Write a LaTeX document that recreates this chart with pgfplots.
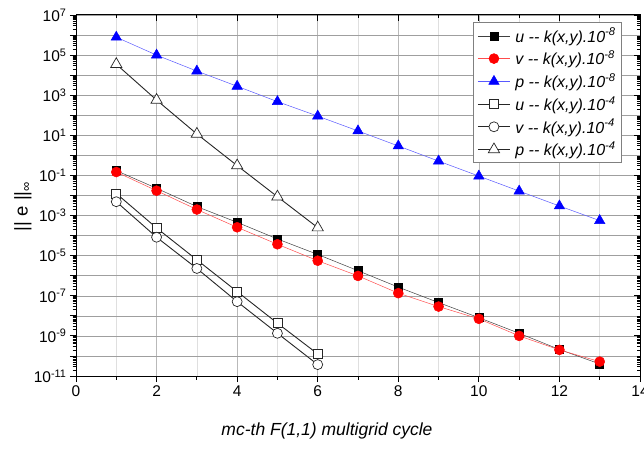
\documentclass[border=0pt]{standalone}
\usepackage{fontspec}
\setmainfont{Liberation Sans}
\usepackage{pgfplots}
\pgfplotsset{compat=1.18}
\def\minorlist{}
\foreach \e in {-11,...,6}{\foreach \m in {2,...,9}{\xdef\minorlist{\minorlist\m e\e,}}}
\xdef\minorlist{\minorlist 1e7}
\begin{document}
\begin{tikzpicture}
\begin{axis}[name=ax, scale only axis, width=564pt, height=361pt,
  xmin=0, xmax=14, ymode=log, ymin=1e-11, ymax=1e7,
  /pgf/number format/assume math mode=true,
  xtick={0,2,...,14}, minor xtick={1,3,...,13},
  ytick={1e-11,1e-10,1e-9,1e-8,1e-7,1e-6,1e-5,1e-4,1e-3,1e-2,1e-1,1,1e1,1e2,1e3,1e4,1e5,1e6,1e7},
  yticklabels={{10\textsuperscript{-11}},,{10\textsuperscript{-9}},,{10\textsuperscript{-7}},,{10\textsuperscript{-5}},,{10\textsuperscript{-3}},,{10\textsuperscript{-1}},,{10\textsuperscript{1}},,{10\textsuperscript{3}},,{10\textsuperscript{5}},,{10\textsuperscript{7}}},
  minor ytick/.expanded={\minorlist},
  tick pos=left, tick align=outside,
  major tick length=6pt, minor tick length=3.5pt,
  tick style={black, line width=0.8pt},
  xmajorgrids, xminorgrids, ymajorgrids,
  major grid style={gray!55, line width=0.7pt},
  minor grid style={gray!25, line width=0.7pt},
  y grid style={gray!75, line width=0.5pt},
  axis line style={black, line width=1pt},
  ticklabel style={font=\fontsize{15.5}{18}\selectfont},
  xlabel={\textit{mc-th F(1,1) multigrid cycle}},
  xlabel style={font=\fontsize{17.5}{20}\selectfont, at={(axis description cs:0.445,0)}, anchor=north, yshift=-43pt},
  ylabel={|| e ||\textsubscript{∞}},
  ylabel style={font=\fontsize{18.5}{20}\selectfont, at={(axis description cs:-0.094,0.47)}, anchor=center},
  legend style={at={(rel axis cs:0.968,0.98)}, anchor=north east, draw=gray, line width=0.6pt,
    font=\fontsize{16}{19}\selectfont, row sep=3.2pt, inner xsep=4pt, inner ysep=3.5pt},
  legend cell align=left,
  legend image code/.code={\draw[mark repeat=2,mark phase=2,#1] plot coordinates {(0pt,0pt) (16pt,0pt) (32pt,0pt)};},
]
\addplot[black!75, line width=0.5pt, mark=square*, mark size=4pt, mark options={fill=black, draw=black}] coordinates {
(1,0.174) (2,0.0229) (3,2.8e-3) (4,4.6e-4) (5,6.8e-5) (6,1.15e-5) (7,1.78e-6) (8,2.7e-7) (9,4.6e-8) (10,8.1e-9) (11,1.35e-9) (12,2.1e-10) (13,4.0e-11)};
\addlegendentry{\hspace{3pt}\textit{u -{}- k(x,y).10\textsuperscript{-8}}}
\addplot[red!70, line width=0.5pt, mark=*, mark size=5pt, mark options={fill=red, draw=red}] coordinates {
(1,0.148) (2,0.0174) (3,2.0e-3) (4,2.6e-4) (5,3.7e-5) (6,5.6e-6) (7,9.8e-7) (8,1.35e-7) (9,2.9e-8) (10,7.1e-9) (11,1.0e-9) (12,2.0e-10) (13,5.2e-11)};
\addlegendentry{\hspace{3pt}\textit{v -{}- k(x,y).10\textsuperscript{-8}}}
\addplot[blue!65, line width=0.5pt, mark=triangle*, mark size=6pt, mark options={fill=blue, draw=blue}] coordinates {
(1,7.8e5) (2,1.0e5) (3,1.6e4) (4,2.8e3) (5,4.8e2) (6,91) (7,16.6) (8,2.95) (9,0.52) (10,0.093) (11,0.0166) (12,0.0030) (13,5.6e-4)};
\addlegendentry{\hspace{3pt}\textit{p -{}- k(x,y).10\textsuperscript{-8}}}
\addplot[black!85, line width=0.9pt, mark=square*, mark size=4.5pt, mark options={fill=white, draw=black!85, line width=0.7pt}] coordinates {
(1,0.0126) (2,2.4e-4) (3,6.2e-6) (4,1.62e-7) (5,4.3e-9) (6,1.26e-10)};
\addlegendentry{\hspace{3pt}\textit{u -{}- k(x,y).10\textsuperscript{-4}}}
\addplot[black!85, line width=0.9pt, mark=*, mark size=5pt, mark options={fill=white, draw=black!85, line width=0.7pt}] coordinates {
(1,4.9e-3) (2,8.3e-5) (3,2.3e-6) (4,5.1e-8) (5,1.35e-9) (6,3.7e-11)};
\addlegendentry{\hspace{3pt}\textit{v -{}- k(x,y).10\textsuperscript{-4}}}
\addplot[black!85, line width=0.9pt, mark=triangle*, mark size=6.5pt, mark options={fill=white, draw=black!85, line width=0.7pt}] coordinates {
(1,3.5e4) (2,575) (3,11.7) (4,0.31) (5,8.7e-3) (6,2.5e-4)};
\addlegendentry{\hspace{3pt}\textit{p -{}- k(x,y).10\textsuperscript{-4}}}
\end{axis}
\begin{axis}[at={(ax.south west)}, anchor=south west, scale only axis, width=564pt, height=361pt,
  xmin=0, xmax=14, ymode=log, ymin=1e-11, ymax=1e7,
  xtick={0,2,...,14}, minor xtick={1,3,...,13},
  ytick={1e-11,1e-9,1e-7,1e-5,1e-3,1e-1,1e1,1e3,1e5,1e7},
  minor ytick/.expanded={\minorlist},
  xticklabels={}, yticklabels={},
  tick pos=right, tick align=inside,
  major tick length=6pt, minor tick length=3.5pt,
  tick style={black, line width=0.8pt},
  axis line style={black, line width=1pt},
]
\end{axis}
\pgfresetboundingbox
\path ([shift={(-76pt,-78pt)}]ax.south west) rectangle ([shift={(4pt,15pt)}]ax.north east);
\end{tikzpicture}
\end{document}
